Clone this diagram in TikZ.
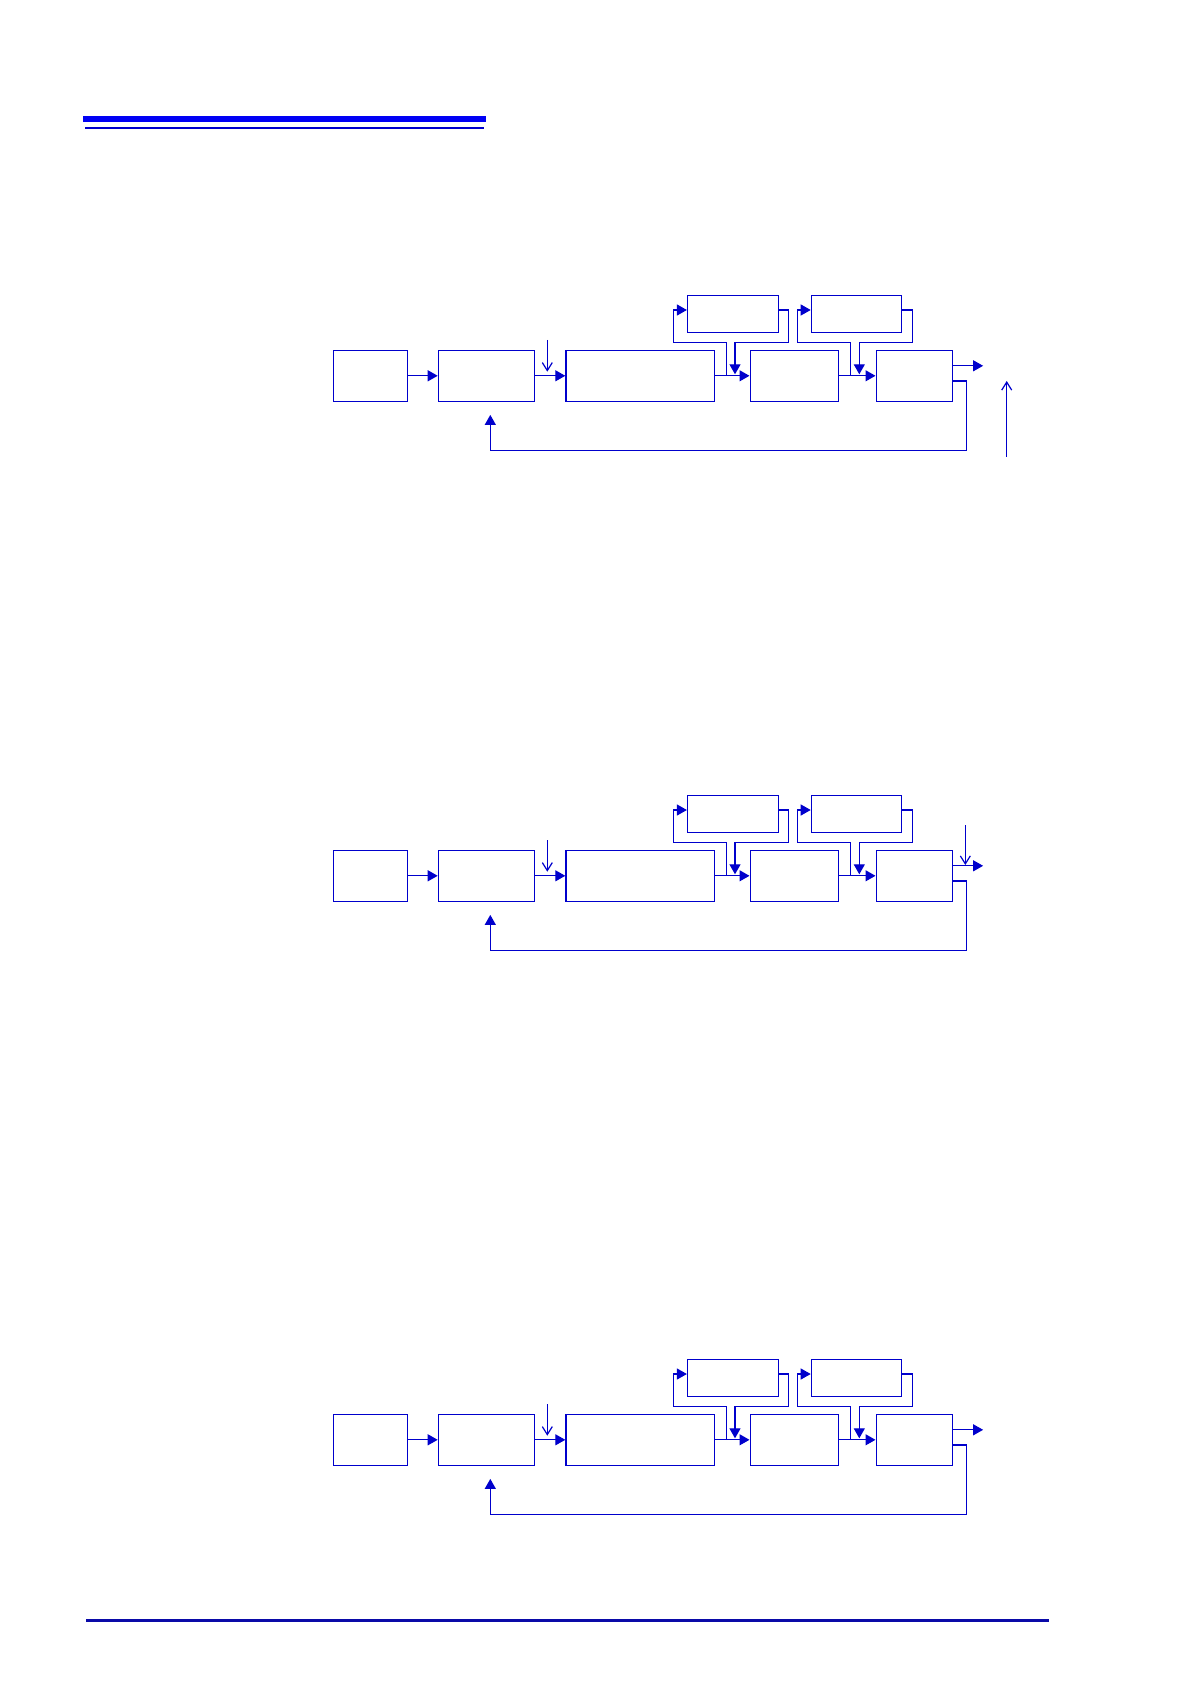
\documentclass[tikz,border=0pt]{standalone}
\usepackage{xcolor}
\usepackage{tikz}
\usetikzlibrary{arrows.meta,positioning,calc}
\definecolor{lnblue}{HTML}{0000CC}
\definecolor{barblue}{HTML}{0000F5}
\definecolor{ruleblue}{HTML}{0A0AA8}

\begin{document}
\begin{tikzpicture}[x=0.5pt,y=-0.5pt,line width=0.6pt]
    \tikzstyle{blk}=[draw=lnblue,line width=0.6pt,minimum height=25.5pt,inner sep=0pt]
    \tikzstyle{sub}=[draw=lnblue,line width=0.6pt,minimum width=45.5pt,minimum height=18.5pt,inner sep=0pt]
    \tikzstyle{flow}=[lnblue,-{Triangle[length=5pt,width=5.5pt]}]
    \tikzstyle{hint}=[lnblue,-{Straight Barb[length=4pt,width=5pt]}]
    \useasboundingbox (0,0) rectangle (1190,1684);
    % page rules
    \fill[barblue] (83,115.7) rectangle (486,121.7);
    \draw[lnblue,line width=0.85pt] (85,128.2) -- (484,128.2);
    \draw[ruleblue,line width=1.5pt] (86,1620.6) -- (1049,1620.6);
    % the three loops
    \foreach \dy/\i in {0/1,500/2,1064/3}{
      \begin{scope}[shift={(0,\dy)}]
        \node[blk,minimum width=37.2pt] (a\i) at (370.5,375.8) {};
        \node[blk,minimum width=48pt,right=14.7pt of a\i]    (b\i) {};
        \node[blk,minimum width=74.2pt,right=15.2pt of b\i]  (c\i) {};
        \node[blk,minimum width=44pt,right=17.3pt of c\i]    (e\i) {};
        \node[blk,minimum width=38pt,right=18.4pt of e\i]    (f\i) {};
        \node[sub] (d\i) at (733,313.8) {};
        \node[sub,minimum width=45pt] (g\i) at (856.3,313.8) {};
        \coordinate (u\i) at (547.3,340);
        \coordinate (j\i) at (726.7,375.8);
        \coordinate (k\i) at (673.3,342.3);
        \coordinate (r\i) at (788.3,342.3);
        \coordinate (m\i) at (735,374.3);
        \coordinate (n\i) at (850.7,375.8);
        \coordinate (p\i) at (797.3,342.3);
        \coordinate (s\i) at (912.3,342.3);
        \coordinate (q\i) at (859.3,374.3);
        \coordinate (w\i) at (966.7,450.3);
        \draw[flow] (a\i) -- (b\i);
        \draw[flow] (b\i) -- (c\i);
        \draw[flow] (c\i) -- (e\i);
        \draw[flow] (e\i) -- (f\i);
        \draw[hint] (u\i) -- ++(0,31.7);
        \draw[flow] (j\i) |- (k\i) |- ([yshift=1.9pt]d\i.west);
        \draw[flow] ([yshift=1.9pt]d\i.east) -| (r\i) -| (m\i);
        \draw[flow] (n\i) |- (p\i) |- ([yshift=1.9pt]g\i.west);
        \draw[flow] ([yshift=1.9pt]g\i.east) -| (s\i) -| (q\i);
        \draw[flow] ([yshift=5pt]f\i.east) -- ++(30.4,0);
        \draw[flow] ([yshift=-2.6pt]f\i.east) -| (w\i) -| ([xshift=2pt,yshift=-6.5pt]b\i.south);
      \end{scope}
    }
    \coordinate (up1) at (1006.7,456.7);
    \coordinate (dn2) at (965.3,825);
    \draw[hint] (up1) -- ++(0,-75.7);
    \draw[hint] (dn2) -- ++(0,40);
\end{tikzpicture}
\end{document}
